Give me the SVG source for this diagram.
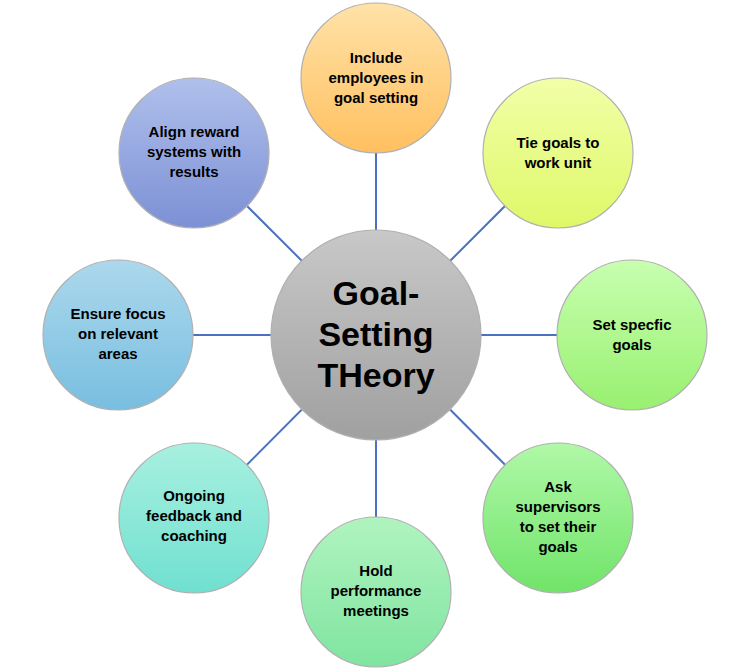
<svg xmlns="http://www.w3.org/2000/svg" width="751" height="669" viewBox="0 0 751 669">
<style>
.n circle{stroke:#b0b0b0;stroke-width:1.2}
text{font-family:"Liberation Sans",Arial,sans-serif;font-weight:bold;font-size:15px;fill:#000;text-anchor:middle}
.c text{font-size:34px}
#connectors line{stroke:#4a72c0;stroke-width:2}
</style>
<defs>
<linearGradient id="g0" x1="0" y1="0" x2="0" y2="1"><stop offset="0" stop-color="#c8c8c8"/><stop offset="1" stop-color="#a0a0a0"/></linearGradient>
<linearGradient id="g1" x1="0" y1="0" x2="0" y2="1"><stop offset="0" stop-color="#ffe2a8"/><stop offset="1" stop-color="#ffc060"/></linearGradient>
<linearGradient id="g2" x1="0" y1="0" x2="0" y2="1"><stop offset="0" stop-color="#f2ffa8"/><stop offset="1" stop-color="#def868"/></linearGradient>
<linearGradient id="g3" x1="0" y1="0" x2="0" y2="1"><stop offset="0" stop-color="#c8ffb0"/><stop offset="1" stop-color="#98f070"/></linearGradient>
<linearGradient id="g4" x1="0" y1="0" x2="0" y2="1"><stop offset="0" stop-color="#b0f8a8"/><stop offset="1" stop-color="#70e468"/></linearGradient>
<linearGradient id="g5" x1="0" y1="0" x2="0" y2="1"><stop offset="0" stop-color="#b0f4c0"/><stop offset="1" stop-color="#80e4a0"/></linearGradient>
<linearGradient id="g6" x1="0" y1="0" x2="0" y2="1"><stop offset="0" stop-color="#a8f0e0"/><stop offset="1" stop-color="#70e0d0"/></linearGradient>
<linearGradient id="g7" x1="0" y1="0" x2="0" y2="1"><stop offset="0" stop-color="#acd8ec"/><stop offset="1" stop-color="#78bee0"/></linearGradient>
<linearGradient id="g8" x1="0" y1="0" x2="0" y2="1"><stop offset="0" stop-color="#b0c0ec"/><stop offset="1" stop-color="#7c90d4"/></linearGradient>
</defs>
<g id="connectors">
<line x1="376" y1="335" x2="376" y2="78"/>
<line x1="376" y1="335" x2="558" y2="153"/>
<line x1="376" y1="335" x2="632" y2="335"/>
<line x1="376" y1="335" x2="558" y2="518"/>
<line x1="376" y1="335" x2="376" y2="592"/>
<line x1="376" y1="335" x2="194" y2="518"/>
<line x1="376" y1="335" x2="118" y2="335"/>
<line x1="376" y1="335" x2="194" y2="153"/>
</g>
<g id="center" class="n c"><circle cx="376" cy="335" r="105" fill="url(#g0)"/><text x="376" y="305">Goal-</text><text x="376" y="346">Setting</text><text x="376" y="387">THeory</text></g>
<g id="n1" class="n"><circle cx="376" cy="78" r="75" fill="url(#g1)"/><text x="376" y="63">Include</text><text x="376" y="83">employees in</text><text x="376" y="103">goal setting</text></g>
<g id="n2" class="n"><circle cx="558" cy="153" r="75" fill="url(#g2)"/><text x="558" y="148">Tie goals to</text><text x="558" y="168">work unit</text></g>
<g id="n3" class="n"><circle cx="632" cy="335" r="75" fill="url(#g3)"/><text x="632" y="330">Set specfic</text><text x="632" y="350">goals</text></g>
<g id="n4" class="n"><circle cx="558" cy="518" r="75" fill="url(#g4)"/><text x="558" y="492">Ask</text><text x="558" y="512">supervisors</text><text x="558" y="532">to set their</text><text x="558" y="552">goals</text></g>
<g id="n5" class="n"><circle cx="376" cy="592" r="75" fill="url(#g5)"/><text x="376" y="576">Hold</text><text x="376" y="596">performance</text><text x="376" y="616">meetings</text></g>
<g id="n6" class="n"><circle cx="194" cy="518" r="75" fill="url(#g6)"/><text x="194" y="501">Ongoing</text><text x="194" y="521">feedback and</text><text x="194" y="541">coaching</text></g>
<g id="n7" class="n"><circle cx="118" cy="335" r="75" fill="url(#g7)"/><text x="118" y="319">Ensure focus</text><text x="118" y="339">on relevant</text><text x="118" y="359">areas</text></g>
<g id="n8" class="n"><circle cx="194" cy="153" r="75" fill="url(#g8)"/><text x="194" y="137">Align reward</text><text x="194" y="157">systems with</text><text x="194" y="177">results</text></g>
</svg>
